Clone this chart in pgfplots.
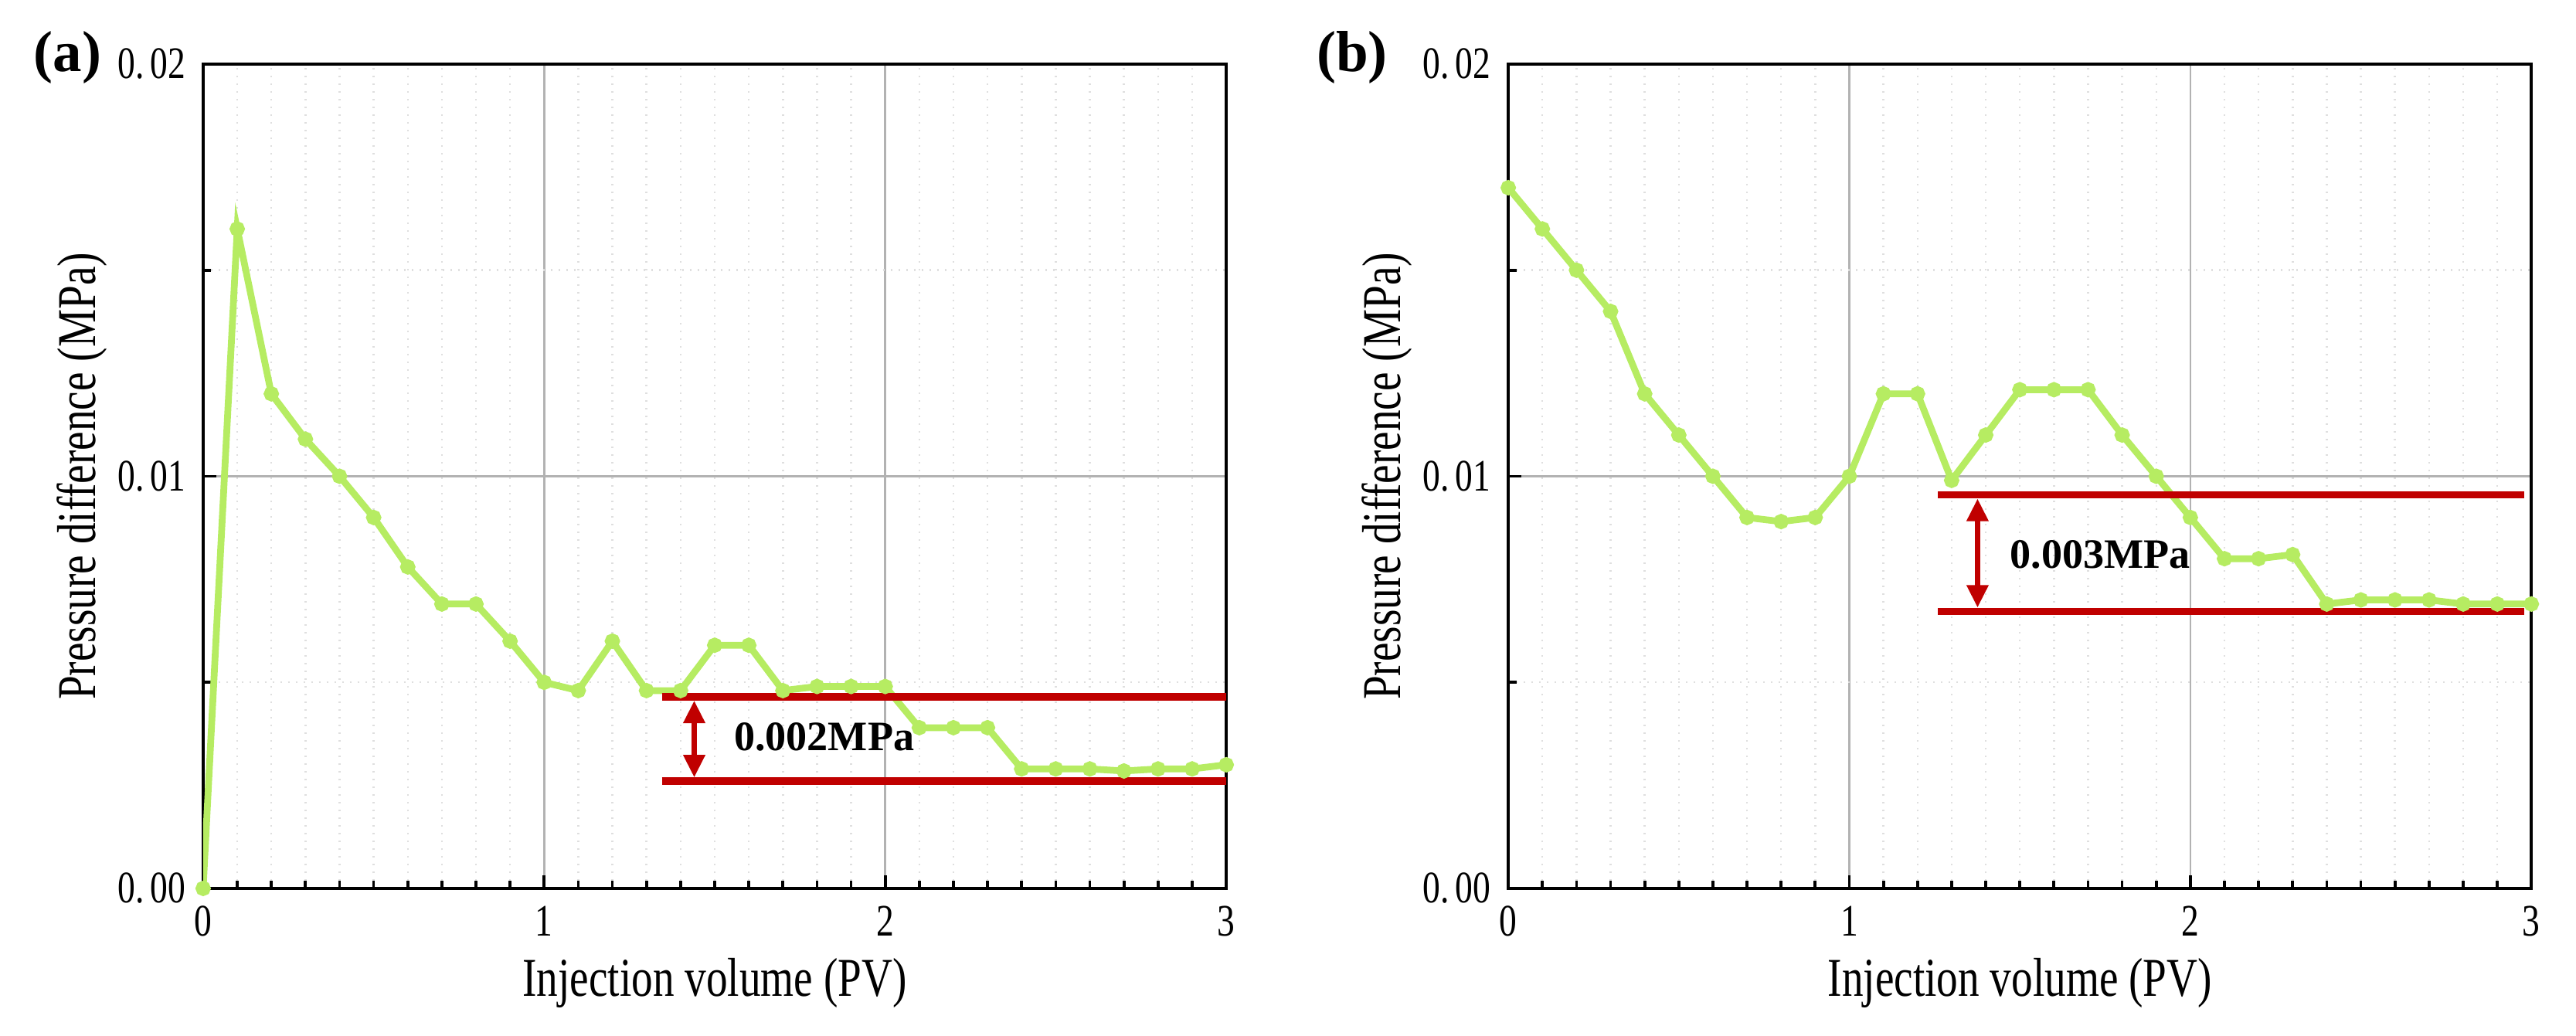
\documentclass[border=0pt]{standalone}
\usepackage{pgfplots}
\pgfplotsset{compat=1.18}
\usepackage{pgfplotstable}
\usepackage{graphicx}
\usepackage{fontspec}
\setmainfont{Liberation Serif}
\usetikzlibrary{arrows.meta}

\definecolor{lime}{RGB}{182,236,98}
\definecolor{dred}{RGB}{192,0,0}

% narrow, tall lettering as in the source figure
\newcommand{\narrow}[1]{\scalebox{0.78}[1]{\textrm{#1}}}

\pgfplotstableread{
x y
0 0
0.1 0.0160
0.2 0.0120
0.3 0.0109
0.4 0.0100
0.5 0.0090
0.6 0.0078
0.7 0.0069
0.8 0.0069
0.9 0.0060
1.0 0.0050
1.1 0.0048
1.2 0.0060
1.3 0.0048
1.4 0.0048
1.5 0.0059
1.6 0.0059
1.7 0.0048
1.8 0.0049
1.9 0.0049
2.0 0.0049
2.1 0.0039
2.2 0.0039
2.3 0.0039
2.4 0.0029
2.5 0.0029
2.6 0.0029
2.7 0.00285
2.8 0.0029
2.9 0.0029
3.0 0.0030
}\dataA

\pgfplotstableread{
x y
0 0.0170
0.1 0.0160
0.2 0.0150
0.3 0.0140
0.4 0.0120
0.5 0.0110
0.6 0.0100
0.7 0.0090
0.8 0.0089
0.9 0.0090
1.0 0.0100
1.1 0.0120
1.2 0.0120
1.3 0.0099
1.4 0.0110
1.5 0.0121
1.6 0.0121
1.7 0.0121
1.8 0.0110
1.9 0.0100
2.0 0.0090
2.1 0.0080
2.2 0.0080
2.3 0.0081
2.4 0.0069
2.5 0.0070
2.6 0.0070
2.7 0.0070
2.8 0.0069
2.9 0.0069
3.0 0.0069
}\dataB

\pgfplotsset{
  panel/.style={
    scale only axis,
    width=317.8pt, height=256.1pt,
    anchor=south west,
    xmin=0, xmax=3, ymin=0, ymax=0.02,
    xtick={0,1,2,3},
    ytick={0,0.01,0.02},
    xticklabels={\narrow{0},\narrow{1},\narrow{2},\narrow{3}},
    yticklabels={\narrow{0.\,00},\narrow{0.\,01},\narrow{0.\,02}},
    scaled y ticks=false,
    minor x tick num=9,
    minor y tick num=1,
    grid=both,
    major grid style={gray!60, line width=0.6pt},
    minor grid style={gray!25, dotted, line width=0.6pt},
    axis line style={black, line width=1pt},
    tick align=inside,
    xtick pos=bottom, ytick pos=left,
    major tick length=4pt, minor tick length=2.5pt,
    tick style={black, line width=0.9pt},
    ticklabel style={font=\fontsize{14}{14}\selectfont},
    yticklabel style={xshift=-2pt},
    xticklabel style={yshift=-2pt},
    label style={font=\fontsize{17}{17}\selectfont},
    xlabel={\narrow{Injection volume (PV)}},
    ylabel={\narrow{Pressure difference (MPa)}},
    xlabel style={at={(axis description cs:0.5,-0.1152)}, anchor=center},
    ylabel style={at={(axis description cs:-0.1183,0.5)}, anchor=center},
  },
  curve/.style={color=lime, line width=2.1pt, mark=*, mark size=1.3pt,
    mark options={fill=lime, draw=lime}},
  band/.style={color=dred, line width=2.3pt, no marks},
}
\tikzset{
  gap/.style={dred, line width=1.6pt,
    {Triangle[length=7pt,width=6.5pt]}-{Triangle[length=7pt,width=6.5pt]},
    shorten <=1.2pt, shorten >=1.2pt},
  gaptext/.style={anchor=west, inner sep=0pt, font=\bfseries\fontsize{13}{13}\selectfont},
}

\begin{document}
\begin{tikzpicture}
\useasboundingbox (0,0) rectangle (800.16pt,321.6pt);

% panel (a)
\begin{axis}[panel, at={(63.1pt,45.6pt)}]
  \addplot[curve] table[x=x, y=y] {\dataA};
  \addplot[band] coordinates {(1.345,0.00465) (3,0.00465)};
  \addplot[band] coordinates {(1.345,0.0026) (3,0.0026)};
  \draw[gap] (axis cs:1.44,0.00465) -- (axis cs:1.44,0.0026);
  \node[gaptext] at (axis cs:1.555,0.00368) {0.002MPa};
\end{axis}

% panel (b)
\begin{axis}[panel, at={(468.5pt,45.6pt)}]
  \addplot[curve] table[x=x, y=y] {\dataB};
  \addplot[band] coordinates {(1.26,0.00955) (2.98,0.00955)};
  \addplot[band] coordinates {(1.26,0.00672) (2.98,0.00672)};
  \draw[gap] (axis cs:1.376,0.00955) -- (axis cs:1.376,0.00672);
  \node[gaptext] at (axis cs:1.47,0.0081) {0.003MPa};
\end{axis}

\node[font=\bfseries\fontsize{18}{18}\selectfont] at (21pt,303.8pt) {(a)};
\node[font=\bfseries\fontsize{18}{18}\selectfont] at (420pt,303.8pt) {(b)};
\end{tikzpicture}
\end{document}
